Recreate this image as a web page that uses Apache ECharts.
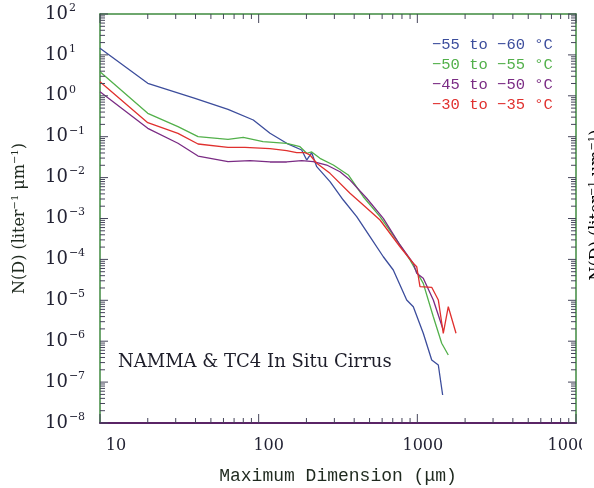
<!DOCTYPE html>
<html>
<head>
<meta charset="utf-8">
<script src="https://cdn.jsdelivr.net/npm/echarts@6/dist/echarts.min.js"></script>
<style>
  html, body { margin: 0; padding: 0; background: #ffffff; }
  #chart { width: 594px; height: 488px; }
</style>
</head>
<body>
<div id="chart"></div>
<script>
// Ice particle size distributions, NAMMA & TC4 in situ cirrus
// Maximum dimension D (µm) and concentration N(D) (liter^-1 µm^-1) per temperature band

const bandNames = ['\u221255 to \u221260 \u00b0C', '\u221250 to \u221255 \u00b0C', '\u221245 to \u221250 \u00b0C', '\u221230 to \u221235 \u00b0C'];
const bandColors = ['#3c4d9c', '#52b04a', '#7a2b84', '#e0302e'];

const dBlue = [10, 20, 39.7, 64.1, 92.5, 117.9, 150.2, 186.7, 200.8, 215.9, 232.2, 281.6, 341.5, 414.8, 502.9, 610.4, 705.4, 857, 943.2, 1090, 1232, 1356, 1444];
const nBlue = [14.5, 2.02, 0.869, 0.468, 0.256, 0.121, 0.069, 0.0473, 0.0269, 0.0406, 0.0185, 0.0080, 0.00283, 0.00111, 3.59e-4, 1.16e-4, 5.51e-5, 1.02e-5, 6.97e-6, 1.56e-6, 3.47e-7, 2.62e-7, 4.84e-8];

const dGreen = [10, 20, 31, 41.5, 64.1, 80, 106.5, 150.2, 182.2, 200.8, 215.9, 243.5, 295.4, 367.2, 456.4, 581.9, 741.3, 899, 1090, 1261, 1424, 1567];
const nGreen = [3.88, 0.373, 0.176, 0.1, 0.0864, 0.0967, 0.0755, 0.069, 0.0569, 0.0393, 0.0423, 0.0296, 0.0203, 0.0116, 0.00341, 0.00111, 2.98e-4, 9.67e-5, 2.6e-5, 3.97e-6, 8.89e-7, 4.6e-7];

const dPurple = [10, 20, 31, 41.5, 64.1, 88.2, 117.9, 150.2, 186.7, 221, 268.4, 325.5, 376.4, 479.5, 610.4, 777.7, 943.2, 990.9, 1090, 1261, 1457];
const nPurple = [1.26, 0.16, 0.069, 0.0337, 0.0245, 0.0259, 0.0241, 0.0241, 0.0259, 0.0245, 0.0203, 0.0139, 0.0087, 0.00312, 0.00101, 2.25e-4, 8.0e-5, 4.57e-5, 3.45e-5, 1.02e-5, 1.88e-6];

const dRed = [10, 20, 31, 41.5, 64.1, 82, 117.9, 150.2, 173.7, 195.9, 210.6, 232.2, 281.6, 376.4, 456.4, 581.9, 777.7, 943.2, 990.9, 1039, 1232, 1356, 1457, 1567, 1753];
const nRed = [2.21, 0.22, 0.121, 0.0663, 0.055, 0.055, 0.0509, 0.0455, 0.0406, 0.0406, 0.0357, 0.0224, 0.0127, 0.00413, 0.00214, 9.19e-4, 2.04e-4, 8.03e-5, 6.63e-5, 2.15e-5, 2.08e-5, 1.02e-5, 1.56e-6, 6.97e-6, 1.56e-6];

// Axis ranges and tick labels
const xRange = [10, 10000];
const yRange = [1e-8, 1e2];
const xMajorTicks = [10, 100, 1000, 10000];
const yMajorTicks = [1e-8, 1e-7, 1e-6, 1e-5, 1e-4, 1e-3, 1e-2, 1e-1, 1, 10, 100];

// 2..9 multiples inside each decade
function minorTicks(majors) {
  const out = [];
  for (let i = 0; i < majors.length - 1; i++) {
    for (let k = 2; k <= 9; k++) out.push(k * majors[i]);
  }
  return out;
}
const xMinorTicks = minorTicks(xMajorTicks);
const yMinorTicks = minorTicks(yMajorTicks);

const frameGreen = '#3f8a3f';
const framePurple = '#5a2466';
const tickColor = '#45455a';
const serif = 'DejaVu Serif';
const mono = 'Liberation Mono';

const MAJOR_X = 9, MINOR_X = 5, MAJOR_Y = 8, MINOR_Y = 5;

function pairs(xs, ys) { return xs.map((x, i) => [x, ys[i]]); }

// x tick label glyphs sit slightly right of their ticks
const xLabelRich = {
  x10: { padding: [0, 0, 0, 32] },
  x100: { padding: [0, 0, 0, 20] },
  x1000: { padding: [0, 0, 0, 11] },
  x10000: { padding: [0, 6, 0, 0] }
};

function powLabel(v) {
  const e = Math.round(Math.log10(v));
  const s = e < 0 ? '\u2212' + (-e) : String(e);
  return '{b|10}{e|' + s + '}';
}

// frame axis: log scale, line and labels only
function frameAxis(position, range, color, width, extra) {
  return Object.assign({
    type: 'log', logBase: 10, min: range[0], max: range[1],
    position: position,
    splitLine: { show: false },
    axisTick: { show: false },
    axisLabel: { show: false },
    axisLine: { show: true, onZero: false, lineStyle: { color: color, width: width } }
  }, extra || {});
}

// inward tick marks on all four sides: [x, y, length, direction]
// direction 0: up from bottom, 1: down from top, 2: right from left, 3: left from right
const tickData = [];
xMajorTicks.forEach(v => { tickData.push([v, yRange[0], MAJOR_X, 0]); tickData.push([v, yRange[1], MAJOR_X, 1]); });
xMinorTicks.forEach(v => { tickData.push([v, yRange[0], MINOR_X, 0]); tickData.push([v, yRange[1], MINOR_X, 1]); });
yMajorTicks.forEach(v => { tickData.push([xRange[0], v, MAJOR_Y, 2]); tickData.push([xRange[1], v, MAJOR_Y, 3]); });
yMinorTicks.forEach(v => { tickData.push([xRange[0], v, MINOR_Y, 2]); tickData.push([xRange[1], v, MINOR_Y, 3]); });

function renderTick(params, api) {
  const p = api.coord([api.value(0), api.value(1)]);
  const len = api.value(2);
  const dir = api.value(3);
  const dx = dir === 2 ? len : dir === 3 ? -len : 0;
  const dy = dir === 0 ? -len : dir === 1 ? len : 0;
  return {
    type: 'line',
    shape: { x1: p[0], y1: p[1], x2: p[0] + dx, y2: p[1] + dy },
    style: { stroke: tickColor, lineWidth: 1 }
  };
}

const nameRich = {
  t: { fontFamily: serif, fontSize: 16, color: '#1f2a1f', lineHeight: 20 },
  s: { fontFamily: serif, fontSize: 10, color: '#1f2a1f', lineHeight: 12, padding: [0, 0, 10, 0] }
};
const nameText = '{t|N(D) (liter}{s|\u22121}{t| \u03bcm}{s|\u22121}{t|)}';

const chart = echarts.init(document.getElementById('chart'), null, { renderer: 'canvas' });

const lineSeries = [
  [dBlue, nBlue], [dGreen, nGreen], [dPurple, nPurple], [dRed, nRed]
].map((s, i) => ({
  name: bandNames[i],
  type: 'line',
  xAxisIndex: 0, yAxisIndex: 0,
  data: pairs(s[0], s[1]),
  showSymbol: false, symbol: 'none',
  lineStyle: { color: bandColors[i], width: 1.3 },
  itemStyle: { color: bandColors[i] },
  silent: true,
  z: 3
}));

chart.setOption({
  animation: false,
  backgroundColor: '#ffffff',
  grid: { left: 100, right: 18, top: 14, bottom: 65, containLabel: false, outerBoundsMode: 'none' },
  title: {
    text: 'NAMMA & TC4 In Situ Cirrus',
    left: 118, top: 353, padding: 0,
    textStyle: { fontFamily: serif, fontSize: 18, fontWeight: 'normal', color: '#1e1e2a' }
  },
  legend: {
    orient: 'vertical',
    left: 422, top: 30,
    icon: 'none',
    itemWidth: 0, itemHeight: 0,
    itemGap: 0,
    selectedMode: false,
    textStyle: { fontFamily: mono, fontSize: 15.5, lineHeight: 20 },
    data: bandNames.map((n, i) => ({ name: n, textStyle: { color: bandColors[i] } }))
  },
  xAxis: [
    frameAxis('bottom', xRange, framePurple, 2, {
      axisLabel: {
        show: true, customValues: xMajorTicks, margin: 15,
        fontFamily: serif, fontSize: 16, color: '#222233',
        formatter: v => '{x' + Math.round(v) + '|' + Math.round(v) + '}',
        rich: xLabelRich
      },
      name: 'Maximum Dimension (\u03bcm)',
      nameLocation: 'middle', nameGap: 44,
      nameTextStyle: { fontFamily: mono, fontSize: 18, color: '#1f2a1f' }
    }),
    frameAxis('top', xRange, frameGreen, 1.5)
  ],
  yAxis: [
    frameAxis('left', yRange, frameGreen, 1.5, {
      axisLabel: {
        show: true, customValues: yMajorTicks, margin: 55, align: 'left',
        formatter: powLabel,
        rich: {
          b: { fontFamily: serif, fontSize: 18, color: '#222233', lineHeight: 20 },
          e: { fontFamily: serif, fontSize: 11, color: '#222233', lineHeight: 12, padding: [0, 0, 12, 1] }
        }
      },
      name: nameText,
      nameLocation: 'middle', nameGap: 70, nameRotate: 90,
      nameTextStyle: { rich: nameRich }
    }),
    frameAxis('right', yRange, frameGreen, 1.5)
  ],
  series: lineSeries.concat([{
    name: 'ticks',
    type: 'custom',
    xAxisIndex: 0, yAxisIndex: 0,
    renderItem: renderTick,
    data: tickData,
    clip: false,
    silent: true,
    z: 4
  }]),
  graphic: [
    // the neighbouring panel's axis title, cut at the page edge
    {
      type: 'text', x: 597, y: 205, rotation: Math.PI / 2, z: 10,
      style: { text: nameText, rich: nameRich, align: 'center', verticalAlign: 'middle' }
    },
    // page edge of this panel cuts the last x tick label
    {
      type: 'rect', z: 10,
      shape: { x: 582, y: 432, width: 12, height: 30 },
      style: { fill: '#ffffff' }
    }
  ]
});
</script>
</body>
</html>
